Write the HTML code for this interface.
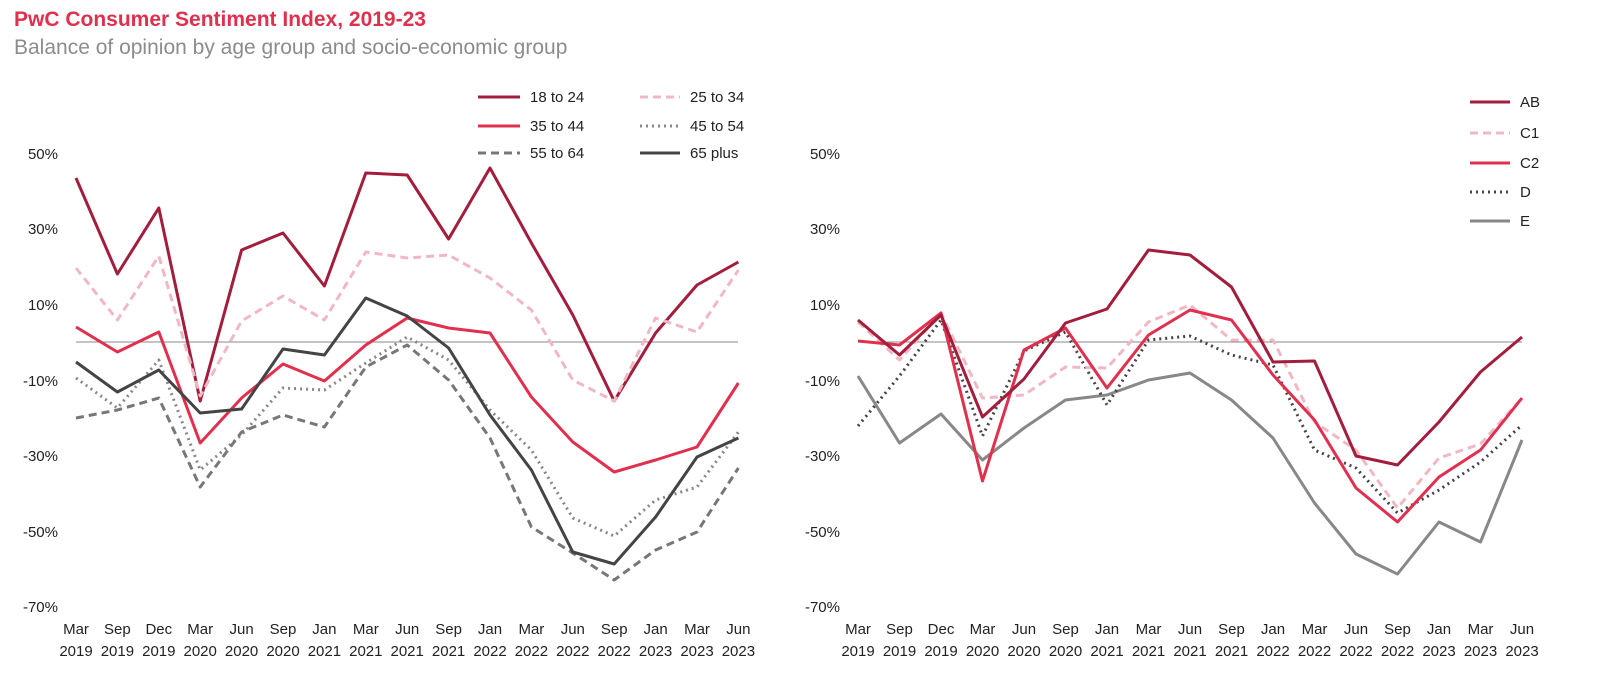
<!DOCTYPE html><html><head><style>body{margin:0;background:#fff;font-family:"Liberation Sans",Arial,sans-serif}</style></head><body>
<svg width="1600" height="673" xmlns="http://www.w3.org/2000/svg" font-family="Liberation Sans, Arial, sans-serif">
<text x="14" y="26" font-size="21" font-weight="bold" fill="#e0304e">PwC Consumer Sentiment Index, 2019-23</text>
<text x="14" y="54" font-size="21" fill="#8c8c8c">Balance of opinion by age group and socio-economic group</text>
<g font-size="15" fill="#222" text-anchor="end">
<text x="58" y="159">50%</text><text x="58" y="234">30%</text><text x="58" y="310">10%</text><text x="58" y="386">-10%</text><text x="58" y="461">-30%</text><text x="58" y="537">-50%</text><text x="58" y="612">-70%</text>
<text x="840" y="159">50%</text><text x="840" y="234">30%</text><text x="840" y="310">10%</text><text x="840" y="386">-10%</text><text x="840" y="461">-30%</text><text x="840" y="537">-50%</text><text x="840" y="612">-70%</text>
</g>
<line x1="76" y1="342" x2="738" y2="342" stroke="#888" stroke-width="1"/>
<line x1="858" y1="342" x2="1522" y2="342" stroke="#888" stroke-width="1"/>
<g font-size="15" fill="#222" text-anchor="middle" id="xl"></g>
<g fill="none" stroke-width="3" stroke-linejoin="round" id="lines"></g>
<g font-size="15" fill="#222">
<line x1="478" y1="97" x2="520" y2="97" stroke="#a31d3c" stroke-width="3"/><text x="530" y="102">18 to 24</text>
<line x1="640" y1="97" x2="680" y2="97" stroke="#f0b8c4" stroke-width="3" stroke-dasharray="8,5"/><text x="690" y="102">25 to 34</text>
<line x1="478" y1="126" x2="520" y2="126" stroke="#e0304e" stroke-width="3"/><text x="530" y="131">35 to 44</text>
<line x1="640" y1="126" x2="680" y2="126" stroke="#888" stroke-width="3" stroke-dasharray="2,4"/><text x="690" y="131">45 to 54</text>
<line x1="478" y1="153" x2="520" y2="153" stroke="#777" stroke-width="3" stroke-dasharray="8,5"/><text x="530" y="158">55 to 64</text>
<line x1="640" y1="153" x2="680" y2="153" stroke="#444" stroke-width="3"/><text x="690" y="158">65 plus</text>
<line x1="1470" y1="102" x2="1510" y2="102" stroke="#a31d3c" stroke-width="3"/><text x="1520" y="107">AB</text>
<line x1="1470" y1="133" x2="1510" y2="133" stroke="#f0b8c4" stroke-width="3" stroke-dasharray="8,5"/><text x="1520" y="138">C1</text>
<line x1="1470" y1="163" x2="1510" y2="163" stroke="#e0304e" stroke-width="3"/><text x="1520" y="168">C2</text>
<line x1="1470" y1="192" x2="1510" y2="192" stroke="#444" stroke-width="3" stroke-dasharray="2,4"/><text x="1520" y="197">D</text>
<line x1="1470" y1="221" x2="1510" y2="221" stroke="#888" stroke-width="3"/><text x="1520" y="226">E</text>
</g>
</svg>
<script>
const ns="http://www.w3.org/2000/svg";
const labs=[["Mar","2019"],["Sep","2019"],["Dec","2019"],["Mar","2020"],["Jun","2020"],["Sep","2020"],["Jan","2021"],["Mar","2021"],["Jun","2021"],["Sep","2021"],["Jan","2022"],["Mar","2022"],["Jun","2022"],["Sep","2022"],["Jan","2023"],["Mar","2023"],["Jun","2023"]];
const xl=document.getElementById('xl');
[[76,41.4],[858,41.5]].forEach(([x0,dx])=>labs.forEach((l,i)=>{l.forEach((t,j)=>{const e=document.createElementNS(ns,'text');e.setAttribute('x',x0+dx*i);e.setAttribute('y',j?656:634);e.textContent=t;xl.appendChild(e);});}));
const L=[
[0,"#a31d3c","",[178,274,208,401,250,233,286,173,175,239,168,243,315,401,333,285,262]],
[0,"#f0b8c4","8,5",[268,320,256,396,321,296,320,252,258,255,278,310,380,401,318,332,270]],
[0,"#e0304e","",[327,352,332,443,398,364,381,345,318,328,333,397,442,472,460,447,383]],
[0,"#888","2,4",[378,408,360,470,435,388,390,363,337,360,410,450,518,536,500,487,432]],
[0,"#777","8,5",[418,410,398,487,432,415,427,367,345,380,438,527,553,580,550,532,468]],
[0,"#444","",[362,392,370,413,409,349,355,298,316,348,415,470,552,564,517,457,438]],
[1,"#888","",[376,443,414,460,428,400,395,380,373,400,438,503,554,574,522,542,440]],
[1,"#444","2,4",[426,376,320,436,351,332,405,340,336,355,365,450,468,513,490,462,425]],
[1,"#f0b8c4","8,5",[322,360,313,398,395,367,368,322,305,340,340,422,450,508,458,444,398]],
[1,"#e0304e","",[341,345,313,481,350,328,388,335,310,320,375,420,488,522,477,450,398]],
[1,"#a31d3c","",[320,355,315,417,379,323,309,250,255,287,362,361,456,465,422,372,337]]];
const g=document.getElementById('lines');
L.forEach(([r,c,d,ys])=>{const x0=r?858:76,dx=r?41.5:41.4;const p=document.createElementNS(ns,'polyline');p.setAttribute('points',ys.map((y,i)=>(x0+dx*i)+','+y).join(' '));p.setAttribute('stroke',c);if(d)p.setAttribute('stroke-dasharray',d);g.appendChild(p);});
</script>
</body></html>
